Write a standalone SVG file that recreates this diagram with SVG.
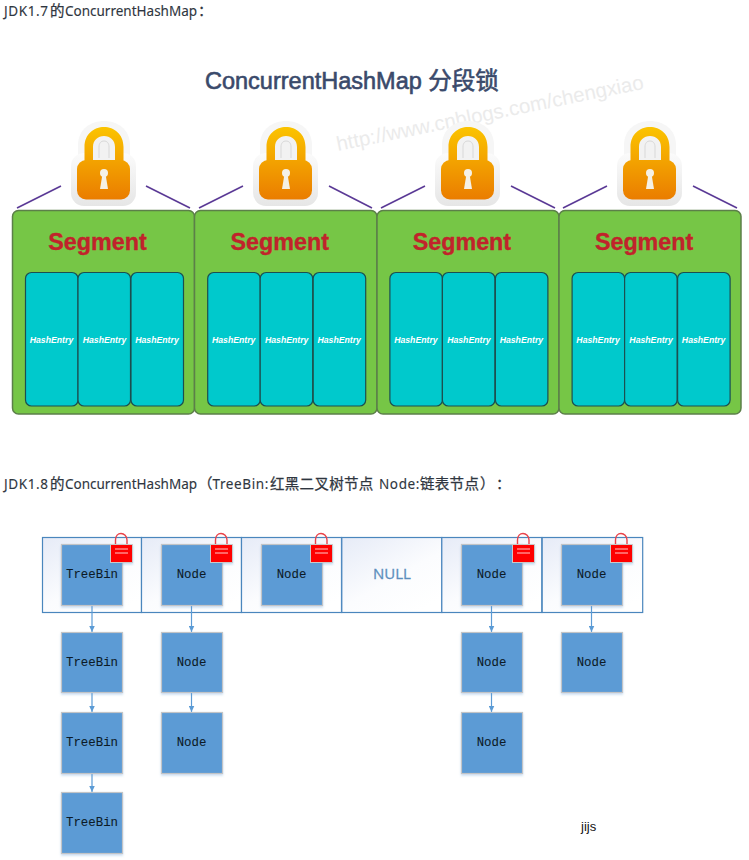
<svg xmlns="http://www.w3.org/2000/svg" xmlns:xlink="http://www.w3.org/1999/xlink" width="749" height="860" viewBox="0 0 749 860">
<style>
.hd{font:13.500px "Noto Sans","Noto Sans CJK SC",sans-serif;fill:#2f3640;stroke:#2f3640;stroke-width:.12}
.sp{letter-spacing:.6px}
.cj{font:14.500px "Noto Sans CJK SC",sans-serif;fill:#2f3640;stroke:#2f3640;stroke-width:.25;text-spacing-trim:space-all}
.seg{fill:#76c646;stroke:#5c7f49;stroke-width:1.5}
.he{fill:#00c9cc;stroke:#1c4f50;stroke-width:1.2}
.st{font:bold 23.300px "Liberation Sans",Arial,sans-serif;fill:#c1232b;stroke:#c1232b;stroke-width:.35;text-anchor:middle}
.ht{font:italic bold 8.700px "Liberation Sans",Arial,sans-serif;fill:#fff;text-anchor:middle}
.pl{stroke:#5b3a96;stroke-width:1.6;fill:none}
.cell{fill:url(#cg);stroke:#4a86bd;stroke-width:1.2}
.nb{fill:#5b9bd5;stroke:#c2c4c6;stroke-width:1.2;filter:url(#sd)}
.nt{font:12.400px "Liberation Mono","Courier New",monospace;fill:#0c1a26;stroke:#0c1a26;stroke-width:.08;text-anchor:middle}
.cn{stroke:#5b9bd5;stroke-width:1.2;fill:none;marker-end:url(#ah)}
</style>
<defs>
<linearGradient id="cg" x1="0" y1="0" x2=".75" y2="1"><stop offset="0" stop-color="#e6ebf7"/><stop offset=".6" stop-color="#fbfcfe"/><stop offset="1" stop-color="#fff"/></linearGradient>
<linearGradient id="lg" gradientUnits="userSpaceOnUse" x1="0" y1="7" x2="0" y2="80"><stop offset="0" stop-color="#fbc400"/><stop offset="1" stop-color="#ea7c00"/></linearGradient>
<linearGradient id="hg" x1="0" y1="0" x2="0" y2="1"><stop offset="0" stop-color="#fbfbfb"/><stop offset="1" stop-color="#e6e6e6"/></linearGradient>
<filter id="sd" x="-10%" y="-10%" width="120%" height="125%"><feDropShadow dx="0" dy="1.500" stdDeviation="1.200" flood-color="#5b9bd5" flood-opacity=".35"/></filter>
<marker id="ah" markerUnits="userSpaceOnUse" markerWidth="7" markerHeight="6" refX="6.500" refY="3" orient="auto"><path d="M0 0L6.500 3L0 6Z" fill="#5b9bd5"/></marker>
<g id="bigLock">
<path d="M-26 48V25C-26 9 -13 1 0 1C13 1 26 9 26 25V48Z" fill="#f6f6f6"/>
<rect x="-33" y="33" width="65" height="53" rx="13" fill="url(#hg)"/>
<rect x="-11" y="16" width="22" height="26" fill="#f2f2f2"/>
<path fill-rule="evenodd" fill="url(#lg)" d="M-19.500 42V27C-19.500 14 -10 7 0 7C10 7 19.500 14 19.500 27V42ZM-11 42H11V27C11 20 6 16 0 16C-6 16 -11 20 -11 27Z"/>
<rect x="-27" y="40" width="53" height="39.500" rx="9" fill="url(#lg)"/>
<path d="M-5 38V27C-5 23 -3 21 0 21C3 21 5 23 5 27V38" fill="none" stroke="#d8d8d8" stroke-width="1"/>
<circle cx="0" cy="53" r="4" fill="#f5f1e6"/><path d="M-1.500 54L-4 69H4L1.500 54Z" fill="#f5f1e6"/>
</g>
<g id="smallLock">
<path d="M5.500 2V-4C5.500 -8 8 -10.500 11 -10.500C14 -10.500 17 -8 17 -4V2" fill="none" stroke="#e8424a" stroke-width="1.400"/>
<rect x="0.500" y="0.500" width="22" height="18" fill="#fe0000" stroke="#c9c9c9" stroke-width="1" filter="url(#sd)"/>
<path d="M5 5H18M5 9H18" stroke="#ffc9c9" stroke-width="1"/>
</g>
</defs>
<rect width="749" height="860" fill="#fff"/>
<text x="4" y="16"><tspan class="hd sp" x="4">JDK1.7</tspan><tspan class="cj" x="50">的</tspan><tspan class="hd" x="65">ConcurrentHashMap</tspan><tspan class="cj" x="198">：</tspan></text>
<text x="205" y="89" style="font:23.500px 'Liberation Sans','Noto Sans CJK SC',sans-serif;fill:#3a4a6b;stroke:#3a4a6b;stroke-width:.6">ConcurrentHashMap 分段锁</text>
<text x="338" y="151" transform="rotate(-11.500 338 151)" style="font:20.400px 'Liberation Sans',sans-serif;fill:#ebebeb">http://www.cnblogs.com/chengxiao</text>

<g id="connectors-top">
<path class="pl" d="M17 208L61 186M146 186L190 208M199 208L243 186M329 186L372 208M381 208L425 186M511 186L555 208M563 208L607 186M693 186L737 208"/>
</g>
<g id="segment-1"><rect class="seg" x="12.500" y="210.500" width="182" height="203.500" rx="6"/><use xlink:href="#bigLock" href="#bigLock" x="104" y="120"/><text class="st" x="97.500" y="250">Segment</text>
<rect class="he" x="25.500" y="272.500" width="52.500" height="133.500" rx="6"/><rect class="he" x="78" y="272.500" width="52.500" height="133.500" rx="6"/><rect class="he" x="131" y="272.500" width="52.500" height="133.500" rx="6"/>
<text class="ht" x="51.500" y="343">HashEntry</text><text class="ht" x="104.500" y="343">HashEntry</text><text class="ht" x="157" y="343">HashEntry</text></g>
<g id="segment-2"><rect class="seg" x="194.500" y="210.500" width="182.500" height="203.500" rx="6"/><use xlink:href="#bigLock" href="#bigLock" x="286" y="120"/><text class="st" x="279.700" y="250">Segment</text>
<rect class="he" x="207.700" y="272.500" width="52.500" height="133.500" rx="6"/><rect class="he" x="260.200" y="272.500" width="52.500" height="133.500" rx="6"/><rect class="he" x="313.200" y="272.500" width="52.500" height="133.500" rx="6"/>
<text class="ht" x="233.700" y="343">HashEntry</text><text class="ht" x="286.700" y="343">HashEntry</text><text class="ht" x="339.200" y="343">HashEntry</text></g>
<g id="segment-3"><rect class="seg" x="377" y="210.500" width="182" height="203.500" rx="6"/><use xlink:href="#bigLock" href="#bigLock" x="468" y="120"/><text class="st" x="461.900" y="250">Segment</text>
<rect class="he" x="389.900" y="272.500" width="52.500" height="133.500" rx="6"/><rect class="he" x="442.400" y="272.500" width="52.500" height="133.500" rx="6"/><rect class="he" x="495.400" y="272.500" width="52.500" height="133.500" rx="6"/>
<text class="ht" x="415.900" y="343">HashEntry</text><text class="ht" x="468.900" y="343">HashEntry</text><text class="ht" x="521.400" y="343">HashEntry</text></g>
<g id="segment-4"><rect class="seg" x="559" y="210.500" width="182" height="203.500" rx="6"/><use xlink:href="#bigLock" href="#bigLock" x="650" y="120"/><text class="st" x="644.100" y="250">Segment</text>
<rect class="he" x="572.100" y="272.500" width="52.500" height="133.500" rx="6"/><rect class="he" x="624.600" y="272.500" width="52.500" height="133.500" rx="6"/><rect class="he" x="677.600" y="272.500" width="52.500" height="133.500" rx="6"/>
<text class="ht" x="598.100" y="343">HashEntry</text><text class="ht" x="651.100" y="343">HashEntry</text><text class="ht" x="703.600" y="343">HashEntry</text></g>

<text x="4" y="489"><tspan class="hd sp" x="4">JDK1.8</tspan><tspan class="cj" x="50">的</tspan><tspan class="hd" x="65">ConcurrentHashMap</tspan><tspan class="cj" x="198">（</tspan><tspan class="hd sp" x="212.500">TreeBin:</tspan><tspan class="cj" x="270" letter-spacing=".3">红黑二叉树节点</tspan><tspan class="hd sp" x="379">Node:</tspan><tspan class="cj" x="420" letter-spacing=".3">链表节点</tspan><tspan class="cj" x="480">）</tspan><tspan class="cj" x="496">：</tspan></text>

<g id="table">
<rect class="cell" x="42.500" y="537.500" width="99" height="75"/><rect class="cell" x="141.500" y="537.500" width="100" height="75"/><rect class="cell" x="241.500" y="537.500" width="100" height="75"/><rect class="cell" x="341.800" y="537.500" width="100" height="75"/><rect class="cell" x="441.800" y="537.500" width="100" height="75"/><rect class="cell" x="542.200" y="537.500" width="100.500" height="75"/>
<text x="392" y="579" style="font:15px 'Open Sans','Liberation Sans',sans-serif;fill:#5b8fbd;stroke:#5b8fbd;stroke-width:.3;text-anchor:middle">NULL</text>
</g>
<g id="connectors">
<path class="cn" d="M92 605V632"/><path class="cn" d="M92 693V712"/><path class="cn" d="M92 773V792"/>
<path class="cn" d="M191.500 605V632"/><path class="cn" d="M191.500 693V712"/>
<path class="cn" d="M491.500 605V632"/><path class="cn" d="M491.500 693V712"/>
<path class="cn" d="M591.500 605V632"/>
</g>
<g id="n1"><rect class="nb" x="61.500" y="544.500" width="61" height="61"/><text class="nt" x="92" y="578">TreeBin</text><use xlink:href="#smallLock" href="#smallLock" x="110" y="544"/></g>
<g id="n2"><rect class="nb" x="161.500" y="544.500" width="61" height="61"/><text class="nt" x="191.500" y="578">Node</text><use xlink:href="#smallLock" href="#smallLock" x="210" y="544"/></g>
<g id="n3"><rect class="nb" x="261.500" y="544.500" width="61" height="61"/><text class="nt" x="291.500" y="578">Node</text><use xlink:href="#smallLock" href="#smallLock" x="310" y="544"/></g>
<g id="n4"><rect class="nb" x="461.500" y="544.500" width="61" height="61"/><text class="nt" x="491.500" y="578">Node</text><use xlink:href="#smallLock" href="#smallLock" x="512" y="544"/></g>
<g id="n5"><rect class="nb" x="561.500" y="544.500" width="61" height="61"/><text class="nt" x="591.500" y="578">Node</text><use xlink:href="#smallLock" href="#smallLock" x="610" y="544"/></g>
<g id="n6"><rect class="nb" x="61.500" y="632.500" width="61" height="60"/><text class="nt" x="92" y="666">TreeBin</text></g>
<g id="n7"><rect class="nb" x="61.500" y="712.500" width="61" height="61"/><text class="nt" x="92" y="746">TreeBin</text></g>
<g id="n8"><rect class="nb" x="61.500" y="792.500" width="61" height="61"/><text class="nt" x="92" y="826">TreeBin</text></g>
<g id="n9"><rect class="nb" x="161.500" y="632.500" width="61" height="60"/><text class="nt" x="191.500" y="666">Node</text></g>
<g id="n10"><rect class="nb" x="161.500" y="712.500" width="61" height="61"/><text class="nt" x="191.500" y="746">Node</text></g>
<g id="n11"><rect class="nb" x="461.500" y="632.500" width="61" height="60"/><text class="nt" x="491.500" y="666">Node</text></g>
<g id="n12"><rect class="nb" x="461.500" y="712.500" width="61" height="61"/><text class="nt" x="491.500" y="746">Node</text></g>
<g id="n13"><rect class="nb" x="561.500" y="632.500" width="61" height="60"/><text class="nt" x="591.500" y="666">Node</text></g>
<text x="581" y="831" style="font:13px 'Liberation Sans',sans-serif;fill:#111">jijs</text>
</svg>
